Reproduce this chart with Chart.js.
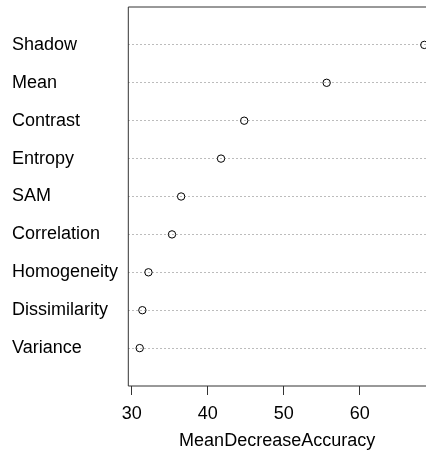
<!DOCTYPE html>
<html>
<head>
<meta charset="utf-8">
<script src="https://cdn.jsdelivr.net/npm/chart.js@4/dist/chart.umd.min.js"></script>
<style>
  html, body { margin: 0; padding: 0; background: #fff; overflow: hidden; }
  canvas { display: block; }
</style>
</head>
<body>
<canvas id="chart" width="426" height="453"></canvas>
<script>
// variable importance, top to bottom as in the plot
var variables = ['Shadow', 'Mean', 'Contrast', 'Entropy', 'SAM',
                 'Correlation', 'Homogeneity', 'Dissimilarity', 'Variance'];
var meanDecreaseAccuracy = [68.5, 55.65, 44.8, 41.75, 36.5, 35.3, 32.2, 31.4, 31.05];
var xTicks = [30, 40, 50, 60];

var n = variables.length;
var FONT = '"Liberation Sans", Arial, sans-serif';

var points = meanDecreaseAccuracy.map(function (v, i) {
  return { x: v, y: n - i };
});

// box around the plot region; its right side lies beyond the picture's edge
var boxPlugin = {
  id: 'box',
  afterDraw: function (chart) {
    var a = chart.chartArea, ctx = chart.ctx;
    ctx.save();
    ctx.strokeStyle = '#333';
    ctx.lineWidth = 1;
    ctx.beginPath();
    ctx.moveTo(chart.width + 2, a.top);
    ctx.lineTo(a.left, a.top);
    ctx.lineTo(a.left, a.bottom);
    ctx.lineTo(chart.width + 2, a.bottom);
    ctx.stroke();
    ctx.restore();
  }
};

new Chart(document.getElementById('chart'), {
  type: 'scatter',
  data: {
    datasets: [{
      data: points,
      clip: false,
      pointStyle: 'circle',
      pointRadius: 3.7,
      pointBorderWidth: 1,
      pointBorderColor: '#000',
      pointBackgroundColor: 'rgba(255,255,255,0)'
    }]
  },
  options: {
    responsive: false,
    animation: false,
    layout: { autoPadding: false, padding: { left: 12, top: 7, right: 0, bottom: 0 } },
    plugins: { legend: { display: false }, tooltip: { enabled: false } },
    scales: {
      x: {
        type: 'linear',
        min: 29.55,
        max: 68.72,
        afterBuildTicks: function (scale) {
          scale.ticks = xTicks.map(function (v) { return { value: v }; });
        },
        afterFit: function (scale) {
          scale.height = 67;
          scale.paddingLeft = 0;
          scale.paddingRight = 0;
        },
        border: { display: false },
        grid: {
          drawOnChartArea: false,
          drawTicks: true,
          tickLength: 9,
          color: '#333'
        },
        ticks: {
          padding: 8,
          color: '#000',
          font: { family: FONT, size: 18 }
        },
        title: {
          display: true,
          text: 'MeanDecreaseAccuracy',
          color: '#000',
          padding: { top: 0, bottom: 1 },
          font: { family: FONT, size: 18 }
        }
      },
      y: {
        type: 'linear',
        min: 0,
        max: n + 1,
        afterFit: function (scale) {
          scale.width = 116.3;
          scale.paddingTop = 0;
          scale.paddingBottom = 0;
        },
        border: { display: false, dash: [2, 2] },
        grid: {
          drawTicks: false,
          tickLength: 0,
          lineWidth: 1,
          color: function (c) {
            var v = c.tick ? c.tick.value : 0;
            return (v >= 1 && v <= n) ? '#bcbcbc' : 'rgba(0,0,0,0)';
          }
        },
        ticks: {
          stepSize: 1,
          autoSkip: false,
          crossAlign: 'far',
          padding: 0,
          color: '#000',
          font: { family: FONT, size: 18 },
          callback: function (v) {
            return (v >= 1 && v <= n) ? variables[n - v] : '';
          }
        }
      }
    }
  },
  plugins: [boxPlugin]
});
</script>
</body>
</html>
